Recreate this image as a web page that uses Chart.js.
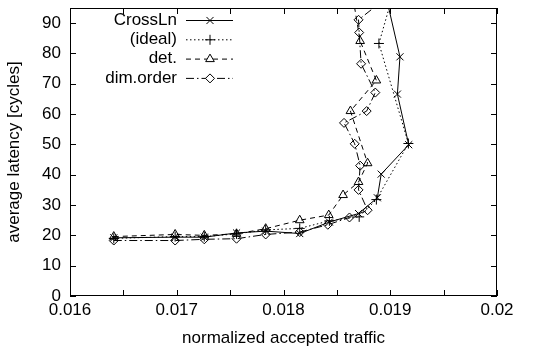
<!DOCTYPE html>
<html>
<head>
<meta charset="utf-8">
<script src="https://cdn.jsdelivr.net/npm/chart.js@4/dist/chart.umd.min.js"></script>
<style>
  html, body { margin: 0; padding: 0; background: #fff; }
  #wrap { width: 540px; height: 355px; }
</style>
</head>
<body>
<div id="wrap"><canvas id="latencyChart"></canvas></div>
<script>
// values, in order of rising latency (injection rate)
const crossX = [0.01641, 0.016985, 0.017258, 0.01756, 0.017833, 0.018152, 0.01843, 0.018703, 0.018879, 0.018915, 0.019173, 0.019067, 0.019091, 0.01892];
const crossY = [19.2, 19.4, 19.4, 20.8, 21.4, 20.6, 24.4, 27.2, 32.4, 40.2, 49.9, 66.6, 78.9, 105];

const idealX = [0.01641, 0.016985, 0.017258, 0.01756, 0.017833, 0.018152, 0.01843, 0.018709, 0.01887, 0.01917, 0.018894, 0.01907];
const idealY = [19.0, 19.6, 19.6, 20.5, 21.8, 22.3, 24.8, 26.1, 31.8, 50.3, 83.3, 105];

const detX = [0.01641, 0.016985, 0.017258, 0.01756, 0.017833, 0.018152, 0.018424, 0.018558, 0.018703, 0.018788, 0.018627, 0.01887, 0.018718, 0.01862];
const detY = [19.6, 20.3, 20.0, 20.5, 22.2, 25.0, 26.7, 33.3, 37.6, 43.8, 61.0, 71.1, 84.1, 105];

const dimX = [0.01641, 0.016985, 0.017258, 0.01756, 0.017833, 0.018152, 0.018415, 0.018618, 0.018788, 0.018703, 0.018718, 0.018667, 0.018567, 0.018779, 0.01886, 0.018727, 0.018709, 0.018703, 0.01895];
const dimY = [18.3, 18.3, 18.7, 18.9, 20.3, 21.1, 23.5, 25.9, 28.3, 35.0, 43.0, 50.2, 57.1, 61.0, 67.1, 76.6, 86.9, 91.1, 98];

const seriesNames = ['CrossLn', '(ideal)', 'det.', 'dim.order'];
const xTickLabels = [0.016, 0.017, 0.018, 0.019, 0.02];
const yTickLabels = [0, 10, 20, 30, 40, 50, 60, 70, 80, 90];

const FONT = '"Liberation Sans", Arial, Helvetica, sans-serif';

function pts(xs, ys) {
    return xs.map((x, i) => ({ x: x, y: ys[i] }));
}

function makeSet(label, xs, ys, style, dash, radius) {
    return {
        label: label,
        data: pts(xs, ys),
        showLine: true,
        borderColor: '#000',
        borderWidth: 1,
        borderDash: dash,
        backgroundColor: 'rgba(0,0,0,0)',
        pointStyle: style,
        pointRadius: radius,
        pointBorderWidth: 1,
        pointBorderColor: '#000',
        pointBackgroundColor: 'rgba(0,0,0,0)'
    };
}

// inward ticks, frame and the gnuplot style key
const gnuplotFrame = {
    id: 'gnuplotFrame',
    afterDraw(chart) {
        const ctx = chart.ctx;
        const a = chart.chartArea;
        const xs = chart.scales.x, ys = chart.scales.y;
        ctx.save();
        ctx.strokeStyle = '#000';
        ctx.lineWidth = 1;
        ctx.setLineDash([]);
        ctx.strokeRect(a.left + 0.5, a.top + 0.5, a.right - a.left - 1, a.bottom - a.top - 1);
        ctx.beginPath();
        for (let k = 0; k <= 8; k++) {
            const px = Math.round(xs.getPixelForValue(0.016 + k * 0.0005)) + 0.5;
            ctx.moveTo(px, a.bottom); ctx.lineTo(px, a.bottom - 6);
            ctx.moveTo(px, a.top); ctx.lineTo(px, a.top + 6);
        }
        yTickLabels.forEach(v => {
            const py = Math.round(ys.getPixelForValue(v)) + 0.5;
            ctx.moveTo(a.left, py); ctx.lineTo(a.left + 6, py);
            ctx.moveTo(a.right, py); ctx.lineTo(a.right - 6, py);
        });
        ctx.stroke();

        // key
        ctx.font = '17px ' + FONT;
        ctx.textAlign = 'right';
        ctx.textBaseline = 'middle';
        chart.data.datasets.forEach((ds, i) => {
            const y = 20 + i * 19.3;
            ctx.fillStyle = '#000';
            ctx.fillText(ds.label, 177, y);
            ctx.setLineDash(ds.borderDash);
            ctx.beginPath();
            ctx.moveTo(186, y + 0.5);
            ctx.lineTo(233, y + 0.5);
            ctx.stroke();
            ctx.setLineDash([]);
            if (Chart.helpers && Chart.helpers.drawPoint) {
                ctx.fillStyle = '#fff';
                Chart.helpers.drawPoint(ctx, {
                    pointStyle: ds.pointStyle,
                    radius: ds.pointRadius,
                    rotation: 0,
                    borderWidth: 1
                }, 210, y + 0.5);
            }
        });
        ctx.restore();
    }
};

const ctx = document.getElementById('latencyChart').getContext('2d');
new Chart(ctx, {
    type: 'scatter',
    data: {
        datasets: [
            makeSet(seriesNames[0], crossX, crossY, 'crossRot', [], 5),
            makeSet(seriesNames[1], idealX, idealY, 'cross', [1.5, 2.5], 5),
            makeSet(seriesNames[2], detX, detY, 'triangle', [5, 4], 5),
            makeSet(seriesNames[3], dimX, dimY, 'rectRot', [8, 3, 1.5, 3], 4.5)
        ]
    },
    options: {
        responsive: true,
        maintainAspectRatio: false,
        animation: false,
        layout: { padding: { top: 8, right: 43, left: 0, bottom: 0 } },
        plugins: {
            legend: { display: false },
            tooltip: { enabled: false }
        },
        scales: {
            x: {
                type: 'linear',
                min: 0.016,
                max: 0.02,
                afterFit: s => { s.height = 59; s.paddingLeft = 0; s.paddingRight = 0; },
                afterBuildTicks: s => { s.ticks = xTickLabels.map(v => ({ value: v })); },
                grid: { display: false, drawTicks: false },
                border: { display: false },
                ticks: {
                    padding: 4,
                    color: '#000',
                    font: { family: FONT, size: 17 },
                    maxRotation: 0,
                    callback: v => String(+v.toFixed(3))
                },
                title: {
                    display: true,
                    text: 'normalized accepted traffic',
                    color: '#000',
                    font: { family: FONT, size: 17 },
                    padding: { top: 0, bottom: 6 }
                }
            },
            y: {
                type: 'linear',
                min: 0,
                max: 95,
                afterFit: s => { s.width = 70; s.paddingTop = 0; s.paddingBottom = 0; },
                afterBuildTicks: s => { s.ticks = yTickLabels.map(v => ({ value: v })); },
                grid: { display: false, drawTicks: false },
                border: { display: false },
                ticks: {
                    padding: 9,
                    color: '#000',
                    font: { family: FONT, size: 17 }
                },
                title: {
                    display: true,
                    text: 'average latency [cycles]',
                    color: '#000',
                    font: { family: FONT, size: 17 },
                    padding: { top: 4, bottom: 0 }
                }
            }
        }
    },
    plugins: [gnuplotFrame]
});
</script>
</body>
</html>
